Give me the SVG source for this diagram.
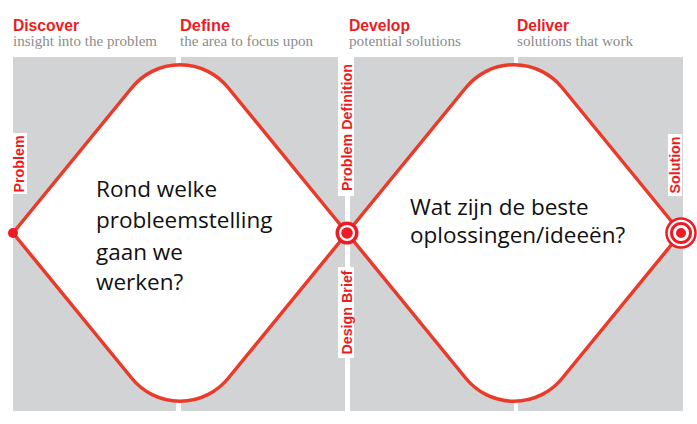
<svg xmlns="http://www.w3.org/2000/svg" width="697" height="424" viewBox="0 0 697 424">
  <style>
    .panel { fill: #d1d3d4; }
    .head { font-family: "Liberation Sans", Arial, sans-serif; font-weight: bold; font-size: 16px; fill: #ed1c24; }
    .sub { font-family: "Liberation Serif", "Times New Roman", serif; font-size: 14.5px; fill: #8c8c8c; }
    .diamond { fill: #ffffff; stroke: #ea3a2a; stroke-width: 3.5; stroke-linejoin: round; }
    .vlabel { font-family: "Liberation Sans", Arial, sans-serif; font-weight: bold; font-size: 14.3px; fill: #ed1c24; text-anchor: middle; }
    .labelbox { fill: #ffffff; }
    .body { font-family: "Open Sans", "Noto Sans", sans-serif; font-size: 22.5px; fill: #111111; }
    .red { fill: #ed1c24; }
    .ring { fill: #ffffff; stroke: #ed1c24; }
  </style>
  <rect width="697" height="424" fill="#ffffff"/>

  <g id="headers">
    <text class="head" x="13" y="31" textLength="66" lengthAdjust="spacingAndGlyphs">Discover</text>
    <text class="sub" x="13" y="46" textLength="144" lengthAdjust="spacingAndGlyphs">insight into the problem</text>
    <text class="head" x="180" y="31" textLength="50" lengthAdjust="spacingAndGlyphs">Define</text>
    <text class="sub" x="180" y="46" textLength="133" lengthAdjust="spacingAndGlyphs">the area to focus upon</text>
    <text class="head" x="349" y="31" textLength="61" lengthAdjust="spacingAndGlyphs">Develop</text>
    <text class="sub" x="349" y="46" textLength="112" lengthAdjust="spacingAndGlyphs">potential solutions</text>
    <text class="head" x="517" y="31" textLength="52" lengthAdjust="spacingAndGlyphs">Deliver</text>
    <text class="sub" x="517" y="46" textLength="116" lengthAdjust="spacingAndGlyphs">solutions that work</text>
  </g>

  <g id="panels">
    <rect class="panel" x="13" y="57" width="163" height="354"/>
    <rect class="panel" x="181" y="57" width="164" height="354"/>
    <rect class="panel" x="350" y="57" width="164" height="354"/>
    <rect class="panel" x="518" y="57" width="165" height="354"/>
  </g>

  <g id="connectors">
    <path id="diamond-discover-define" class="diamond" d="M 13 233 L 132 87.5 A 62 62 0 0 1 228 87.5 L 347 233 L 228 378.5 A 62 62 0 0 1 132 378.5 Z"/>
    <path id="diamond-develop-deliver" class="diamond" d="M 347 233 L 466 87.5 A 62 62 0 0 1 562 87.5 L 681 233 L 562 378.5 A 62 62 0 0 1 466 378.5 Z"/>
  </g>

  <g id="node-problem">
    <rect class="labelbox" x="13" y="133" width="14" height="61"/>
    <text class="vlabel" transform="translate(24,164) rotate(-90)" x="0" y="0">Problem</text>
    <circle class="red" cx="13" cy="233" r="5"/>
  </g>

  <g id="node-problem-definition">
    <rect class="labelbox" x="338" y="57" width="16" height="139"/>
    <text class="vlabel" transform="translate(352,127.5) rotate(-90)" x="0" y="0">Problem Definition</text>
  </g>

  <g id="node-design-brief">
    <rect class="labelbox" x="338" y="267" width="16" height="91"/>
    <text class="vlabel" transform="translate(352,312.5) rotate(-90)" x="0" y="0">Design Brief</text>
  </g>

  <g id="node-define-point">
    <circle class="red" cx="347" cy="233" r="11.5"/>
    <circle fill="#ffffff" cx="347" cy="233" r="8"/>
    <circle class="red" cx="347" cy="233" r="5.8"/>
  </g>

  <g id="node-solution">
    <rect class="labelbox" x="668" y="134" width="14" height="62"/>
    <text class="vlabel" transform="translate(680,165) rotate(-90)" x="0" y="0">Solution</text>
    <circle class="ring" cx="681" cy="233" r="14.5" stroke-width="2.5"/>
    <circle class="ring" cx="681" cy="233" r="9.5" stroke-width="3"/>
    <circle class="red" cx="681" cy="233" r="5"/>
  </g>

  <g id="text-define">
    <text class="body" x="96" y="197">Rond welke</text>
    <text class="body" x="96" y="228">probleemstelling</text>
    <text class="body" x="96" y="260">gaan we</text>
    <text class="body" x="96" y="290">werken?</text>
  </g>

  <g id="text-deliver">
    <text class="body" x="410" y="215">Wat zijn de beste</text>
    <text class="body" x="410" y="243">oplossingen/ideeën?</text>
  </g>
</svg>
